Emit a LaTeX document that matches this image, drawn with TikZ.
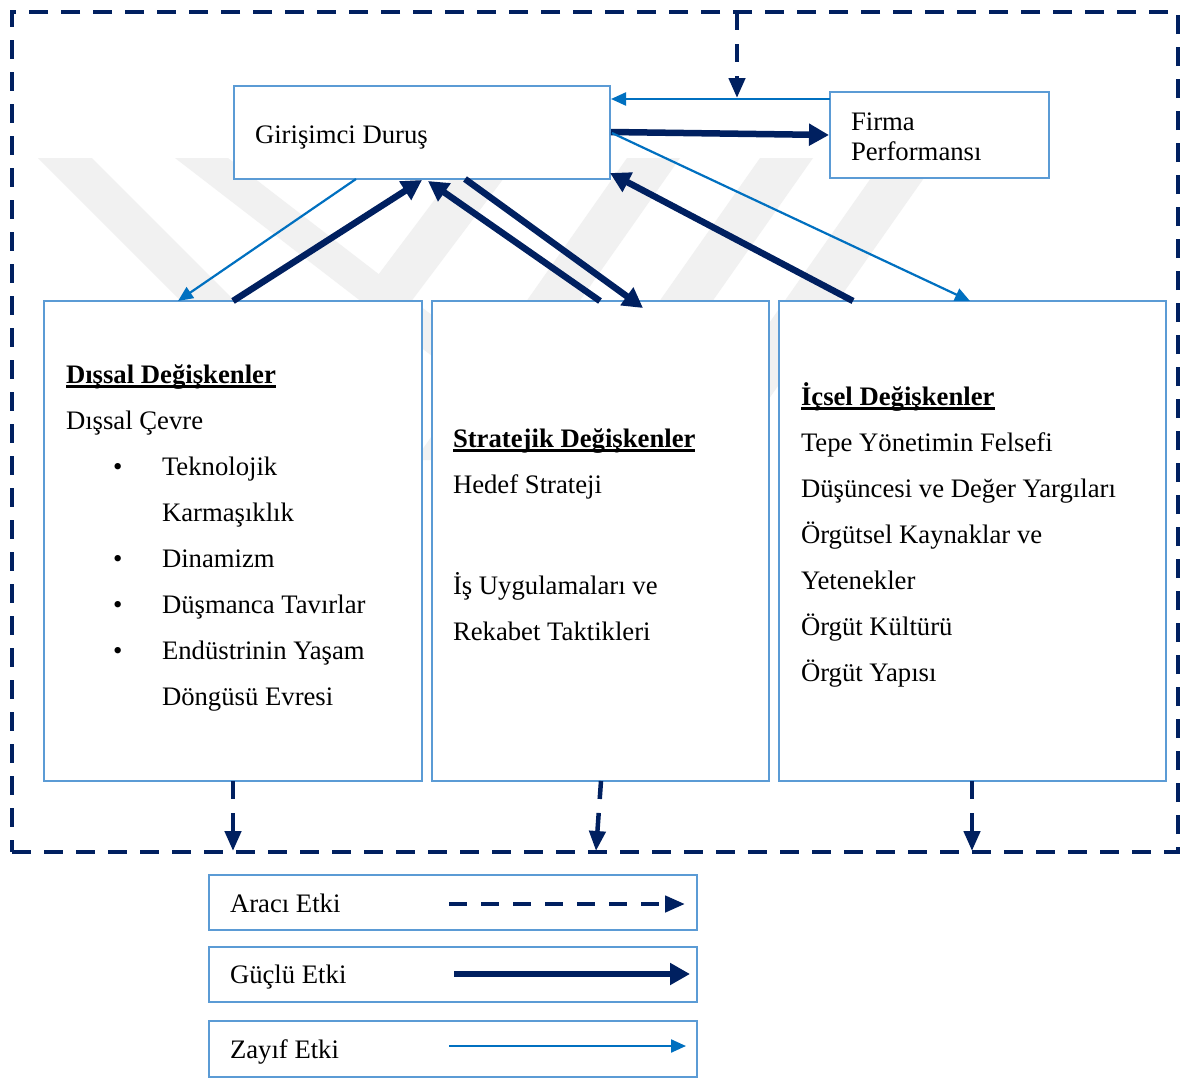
\documentclass[tikz,border=0pt]{standalone}
\usepackage{fontspec}
\setmainfont{Liberation Serif}
\usetikzlibrary{arrows.meta,calc}
\definecolor{navy}{HTML}{002060}
\definecolor{weakblue}{HTML}{0070C0}
\definecolor{boxblue}{HTML}{5B9BD5}
\definecolor{wmgray}{HTML}{F1F1F1}
% bold heading with a heavy underline
\newcommand\hdul[1]{\setbox0\hbox{\bfseries #1}\rlap{\rule[-4.5pt]{\wd0}{2.6pt}}\box0}
\begin{document}
\begin{tikzpicture}[x=1pt,y=-1pt,
  box/.style={draw=boxblue,line width=2.5pt,fill=white,inner sep=0pt,outer sep=0pt,anchor=north west,rectangle},
  frame/.style={draw=navy,line width=4.5pt,dash pattern=on 19pt off 13pt,inner sep=0pt,outer sep=0pt,anchor=north west,rectangle},
  txt/.style={anchor=base west,inner sep=0pt,outer sep=0pt,font=\fontsize{26.7}{32}\selectfont},
  strong/.style={draw=navy,line width=6.5pt,-{Triangle[length=20pt,width=21pt]}},
  weak/.style={draw=weakblue,line width=2.2pt,-{Triangle[length=15pt,width=13pt]}},
  medi/.style={draw=navy,line width=4.5pt,dash pattern=on 18pt off 14pt,-{Triangle[length=20pt,width=16pt]}},
  wm/.style={fill=wmgray,draw=none}
]
\useasboundingbox (0,0) rectangle (1181,1079);
\fill[white] (0,0) rectangle (1181,1079);

% faint chevron watermark in the background
\fill[wm] (38,158) -- (92,158) -- (394,460) -- (340,460) -- cycle;
\fill[wm] (175,158) -- (228,158) -- (620,460) -- (567,460) -- cycle;
\fill[wm] (466,158) -- (519,158) -- (292,460) -- (239,460) -- cycle;
\fill[wm] (627,158) -- (680,158) -- (468,460) -- (415,460) -- cycle;
\fill[wm] (760,158) -- (813,158) -- (601,460) -- (548,460) -- cycle;
\fill[wm] (885,158) -- (938,158) -- (726,460) -- (673,460) -- cycle;

% outer frame
\node[frame,minimum width=1166pt,minimum height=840pt] (fr) at (12,12) {};

% boxes
\node[box,minimum width=376pt,minimum height=93pt] (gd) at (234,86) {};
\node[box,minimum width=219pt,minimum height=86pt] (fp) at (830,92) {};
\node[box,minimum width=378pt,minimum height=480pt] (dv) at (44,301) {};
\node[box,minimum width=337pt,minimum height=480pt] (sv) at (432,301) {};
\node[box,minimum width=387pt,minimum height=480pt] (iv) at (779,301) {};

% texts of the top boxes
\node[txt] (gdt) at (255,143) {Girişimci Duruş};
\node[txt] (fpt1) at (851,130) {Firma};
\node[txt] (fpt2) at (851,160) {Performansı};

% external variables
\node[txt] (dh) at (66,383) {\hdul{Dışsal Değişkenler}};
\node[txt] (d1) at (66,429) {Dışsal Çevre};
\node[txt] (b1) at (113,475) {•};
\node[txt] (d2) at (162,475) {Teknolojik};
\node[txt] (d3) at (162,521) {Karmaşıklık};
\node[txt] (b2) at (113,567) {•};
\node[txt] (d4) at (162,567) {Dinamizm};
\node[txt] (b3) at (113,613) {•};
\node[txt] (d5) at (162,613) {Düşmanca Tavırlar};
\node[txt] (b4) at (113,659) {•};
\node[txt] (d6) at (162,659) {Endüstrinin Yaşam};
\node[txt] (d7) at (162,705) {Döngüsü Evresi};

% strategic variables
\node[txt] (sh) at (453,447) {\hdul{Stratejik Değişkenler}};
\node[txt] (s1) at (453,493) {Hedef Strateji};
\node[txt] (s2) at (453,594) {İş Uygulamaları ve};
\node[txt] (s3) at (453,640) {Rekabet Taktikleri};

% internal variables
\node[txt] (ih) at (801,405) {\hdul{İçsel Değişkenler}};
\node[txt] (i1) at (801,451) {Tepe Yönetimin Felsefi};
\node[txt] (i2) at (801,497) {Düşüncesi ve Değer Yargıları};
\node[txt] (i3) at (801,543) {Örgütsel Kaynaklar ve};
\node[txt] (i4) at (801,589) {Yetenekler};
\node[txt] (i5) at (801,635) {Örgüt Kültürü};
\node[txt] (i6) at (801,681) {Örgüt Yapısı};

% connectors around the top boxes
\coordinate (jn) at (737,98);
\draw[weak] ($(fp.north west)+(0,7)$) -- ($(gd.north east)+(1,13)$);
\draw[medi] ($(fr.north west)+(725,0)$) -- (jn);
\draw[strong] ($(gd.north east)+(1,46)$) -- ($(fp.north west)+(-1,43)$);
\draw[weak] ($(gd.north east)+(2,47)$) -- ($(iv.north west)+(191,0)$);

% connectors between the top box and the three variable boxes
\draw[weak] ($(gd.south west)+(122,0)$) -- ($(dv.north west)+(134,0)$);
\draw[strong] ($(dv.north west)+(189,0)$) -- ($(gd.south west)+(188,1)$);
\draw[strong] ($(sv.north west)+(168,0)$) -- ($(gd.south west)+(194,2)$);
\draw[strong] ($(gd.south west)+(231,0)$) -- ($(sv.north west)+(211,7)$);
\draw[strong] ($(iv.north west)+(74,0)$) -- ($(gd.south east)+(0,-6)$);

% mediating links down to the frame
\draw[medi] ($(dv.south west)+(189,0)$) -- ($(fr.south west)+(221,-1)$);
\draw[medi] ($(sv.south west)+(169,0)$) -- ($(fr.south west)+(584,-1)$);
\draw[medi] ($(iv.south west)+(193,0)$) -- ($(fr.south west)+(960,-1)$);

% legend
\node[box,minimum width=488pt,minimum height=55pt] (lg1) at (209,875) {};
\node[box,minimum width=488pt,minimum height=55pt] (lg2) at (209,947) {};
\node[box,minimum width=488pt,minimum height=56pt] (lg3) at (209,1021) {};
\node[txt] (lt1) at (230,912) {Aracı Etki};
\node[txt] (lt2) at (230,983) {Güçlü Etki};
\node[txt] (lt3) at (230,1058) {Zayıf Etki};
\draw[medi] ($(lg1.north west)+(240,29)$) -- ($(lg1.north west)+(476,29)$);
\draw[strong] ($(lg2.north west)+(245,27)$) -- ($(lg2.north west)+(481,27)$);
\draw[weak] ($(lg3.north west)+(240,25)$) -- ($(lg3.north west)+(477,25)$);
\end{tikzpicture}
\end{document}
